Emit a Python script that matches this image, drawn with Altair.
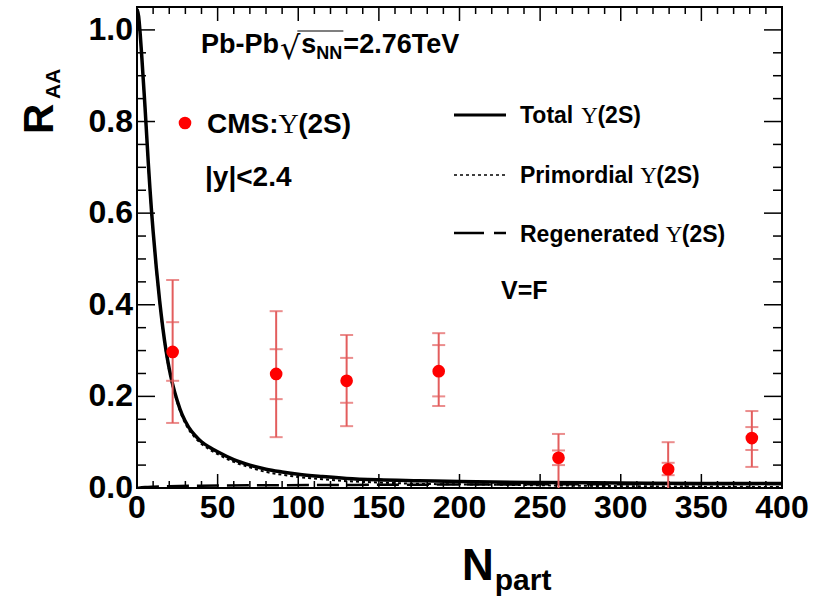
import altair as alt
import pandas as pd

# ---------------- data ----------------
# Total Upsilon(2S) curve
tot_npart = [0, 1, 2, 3, 4, 5, 6, 7, 8, 9, 10, 12, 14, 16, 18, 20, 22, 25, 28, 32, 36, 40, 45, 50,
             60, 70, 80, 90, 100, 115, 130, 150, 175, 200, 250, 300, 350, 400]
tot_raa = [1.045, 1.03, 0.99, 0.94, 0.885, 0.83, 0.77, 0.71, 0.655, 0.605, 0.56, 0.48, 0.41, 0.35,
           0.30, 0.26, 0.228, 0.19, 0.16, 0.133, 0.115, 0.101, 0.089, 0.079, 0.062, 0.050, 0.041,
           0.035, 0.030, 0.025, 0.021, 0.018, 0.016, 0.014, 0.012, 0.011, 0.010, 0.010]
# Primordial Upsilon(2S) curve
prim_npart = tot_npart
prim_raa = [1.045, 1.028, 0.988, 0.938, 0.882, 0.828, 0.767, 0.707, 0.652, 0.602, 0.557, 0.477,
            0.406, 0.346, 0.296, 0.256, 0.224, 0.186, 0.156, 0.128, 0.110, 0.096, 0.084, 0.074,
            0.057, 0.045, 0.035, 0.029, 0.024, 0.019, 0.015, 0.012, 0.009, 0.008, 0.006, 0.004,
            0.003, 0.002]
# Regenerated Upsilon(2S) curve
reg_npart = [0, 5, 10, 20, 40, 80, 150, 250, 400]
reg_raa = [0.0, 0.002, 0.003, 0.004, 0.005, 0.006, 0.007, 0.008, 0.009]

# CMS data points
cms_npart = [22.1, 86.3, 130.0, 187.1, 261.4, 329.4, 381.3]
cms_raa = [0.297, 0.249, 0.234, 0.255, 0.066, 0.041, 0.109]
cms_stat_lo = [0.234, 0.194, 0.186, 0.200, 0.050, 0.028, 0.083]
cms_stat_hi = [0.362, 0.303, 0.284, 0.312, 0.082, 0.055, 0.133]
cms_tot_lo = [0.142, 0.111, 0.135, 0.179, -0.02, -0.04, 0.046]
cms_tot_hi = [0.454, 0.386, 0.334, 0.338, 0.118, 0.100, 0.168]

# axis ticks and tick labels
x_ticks = [0, 50, 100, 150, 200, 250, 300, 350, 400]
x_tick_labels = ["0", "50", "100", "150", "200", "250", "300", "350", "400"]
x_minor = [v for v in range(0, 401, 10) if v % 50 != 0]
y_ticks = [0.0, 0.2, 0.4, 0.6, 0.8, 1.0]
y_tick_labels = ["0.0", "0.2", "0.4", "0.6", "0.8", "1.0"]
y_minor = [0.05, 0.1, 0.15, 0.25, 0.3, 0.35, 0.45, 0.5, 0.55, 0.65, 0.7, 0.75, 0.85, 0.9, 0.95]

# ---------------- layout ----------------
W, H = 645, 481
SANS = "Liberation Sans"
SERIF = "Liberation Serif"
RED = "#ff0000"
ERR = "#e35d5d"

AB = {' ': 278, '(': 333, ')': 333, '-': 333, '.': 278, ':': 333, '<': 584, '=': 584, '|': 280,
      'A': 722, 'C': 722, 'F': 611, 'M': 833, 'N': 722, 'P': 667, 'R': 722, 'S': 667, 'T': 611,
      'V': 667, 'a': 556, 'b': 611, 'd': 611, 'e': 556, 'g': 611, 'i': 278, 'l': 278, 'm': 889,
      'n': 611, 'o': 611, 'p': 611, 'r': 389, 's': 556, 't': 333, 'y': 556}


def wbold(s, size):
    return sum(AB.get(c, 556) for c in s) / 1000.0 * size


one = pd.DataFrame({"k": [0]})


def txt(s, x, y, size, font=SANS, weight="bold", angle=None, color="black"):
    kw = dict(text=s, font=font, fontSize=size, fontWeight=weight, align="left",
              baseline="alphabetic", color=color)
    if angle is not None:
        kw["angle"] = angle
    return alt.Chart(one).mark_text(**kw).encode(x=alt.value(x), y=alt.value(y))


def upsilon_run(prefix, x, y, size):
    layers = [txt(prefix, x, y, size)]
    x1 = x + wbold(prefix, size)
    layers.append(txt("\u03a5", x1, y, size, font=SERIF, weight="normal"))
    x2 = x1 + 0.70 * size
    layers.append(txt("(2S)", x2, y, size))
    return layers


xs = alt.Scale(domain=[0, 400], nice=False, zero=False)
ys = alt.Scale(domain=[0, 1.05], nice=False, zero=False)

# ---------------- tick labels (through the scales) ----------------
df_xl = pd.DataFrame({"x": x_ticks, "t": x_tick_labels})
df_yl = pd.DataFrame({"y": y_ticks, "t": y_tick_labels})
xlab = alt.Chart(df_xl).mark_text(font=SANS, fontWeight="bold", fontSize=32, align="center",
                                  baseline="top", color="black").encode(
    x=alt.X("x:Q", scale=xs, axis=None), y=alt.value(H + 5), text="t:N")
ylab = alt.Chart(df_yl).mark_text(font=SANS, fontWeight="bold", fontSize=32, align="right",
                                  baseline="middle", color="black").encode(
    y=alt.Y("y:Q", scale=ys, axis=None), x=alt.value(-4), text="t:N")


# ---------------- tick marks (inside frame) ----------------
def xtick_layer(vals, length):
    d = pd.DataFrame({"x": vals})
    b = alt.Chart(d).mark_rule(color="black", strokeWidth=1.5)
    bottom = b.encode(x=alt.X("x:Q", scale=xs, axis=None), y=alt.value(H), y2=alt.value(H - length))
    top = b.encode(x=alt.X("x:Q", scale=xs, axis=None), y=alt.value(0), y2=alt.value(length))
    return [bottom, top]


def ytick_layer(vals, length):
    d = pd.DataFrame({"y": vals})
    b = alt.Chart(d).mark_rule(color="black", strokeWidth=1.5)
    left = b.encode(y=alt.Y("y:Q", scale=ys, axis=None), x=alt.value(0), x2=alt.value(length))
    right = b.encode(y=alt.Y("y:Q", scale=ys, axis=None), x=alt.value(W), x2=alt.value(W - length))
    return [left, right]


ticks = (xtick_layer(x_ticks, 14) + xtick_layer(x_minor, 7)
         + ytick_layer(y_ticks, 18) + ytick_layer(y_minor, 9))

# ---------------- curves ----------------
df_tot = pd.DataFrame({"x": tot_npart, "y": tot_raa})
df_prim = pd.DataFrame({"x": prim_npart, "y": prim_raa})
df_reg = pd.DataFrame({"x": reg_npart, "y": reg_raa})

enc = dict(x=alt.X("x:Q", scale=xs, axis=None), y=alt.Y("y:Q", scale=ys, axis=None))
line_prim = alt.Chart(df_prim).mark_line(color="black", strokeWidth=2, strokeDash=[3, 3],
                                          interpolate="monotone", clip=True).encode(**enc)
line_reg = alt.Chart(df_reg).mark_line(color="black", strokeWidth=2.5, strokeDash=[22, 8],
                                        interpolate="monotone", clip=True).encode(**enc)
line_tot = alt.Chart(df_tot).mark_line(color="black", strokeWidth=3.5,
                                        interpolate="monotone", clip=True).encode(**enc)

# ---------------- CMS points ----------------
df_cms = pd.DataFrame({"x": cms_npart, "y": cms_raa, "lo": cms_tot_lo, "hi": cms_tot_hi})
caps = pd.DataFrame({
    "x": cms_npart * 4,
    "v": cms_tot_lo + cms_tot_hi + cms_stat_lo + cms_stat_hi,
})
err = alt.Chart(df_cms).mark_rule(color=ERR, strokeWidth=2, clip=True).encode(
    x=alt.X("x:Q", scale=xs, axis=None),
    y=alt.Y("lo:Q", scale=ys, axis=None),
    y2="hi:Q",
)
cap = alt.Chart(caps).mark_tick(color=ERR, orient="horizontal", size=13, thickness=2,
                                clip=True).encode(
    x=alt.X("x:Q", scale=xs, axis=None),
    y=alt.Y("v:Q", scale=ys, axis=None),
)
pts = alt.Chart(df_cms).mark_circle(color=RED, size=160, opacity=1).encode(
    x=alt.X("x:Q", scale=xs, axis=None),
    y=alt.Y("y:Q", scale=ys, axis=None),
)

# ---------------- annotations ----------------
ann = []
# header  Pb-Pb sqrt(s_NN)=2.76TeV
hx, hy, hs = 64, 46, 27
ann.append(txt("Pb-Pb", hx, hy, hs))
rx = hx + wbold("Pb-Pb", hs) + 1
ann.append(txt("\u221a", rx, hy + 6, 32, font="DejaVu Sans", weight="normal"))
sx = rx + 0.636 * 32 + 1
ann.append(txt("s", sx, hy, hs))
nx = sx + wbold("s", hs)
ann.append(txt("NN", nx, hy + 6, 18))
ex = nx + wbold("NN", 18) + 1
ann.append(txt("=2.76TeV", ex, hy, hs))
ann.append(alt.Chart(one).mark_rule(color="black", strokeWidth=1.2).encode(
    x=alt.value(rx + 0.636 * 32 - 3), x2=alt.value(ex), y=alt.value(hy - 22)))

# CMS label
ann.append(alt.Chart(one).mark_circle(color=RED, size=160, opacity=1).encode(
    x=alt.value(48), y=alt.value(116)))
ann += upsilon_run("CMS:", 70, 126, 28)
ann.append(txt("|y|<2.4", 68, 179, 28))

# legend
leg_y = [108, 168, 226]
leg_base = [116, 176, 235]
ann.append(alt.Chart(one).mark_rule(color="black", strokeWidth=3).encode(
    x=alt.value(317), x2=alt.value(369), y=alt.value(leg_y[0])))
ann.append(alt.Chart(one).mark_rule(color="black", strokeWidth=1.5, strokeDash=[3, 3]).encode(
    x=alt.value(317), x2=alt.value(369), y=alt.value(leg_y[1])))
ann.append(alt.Chart(one).mark_rule(color="black", strokeWidth=2.5, strokeDash=[30, 10]).encode(
    x=alt.value(317), x2=alt.value(369), y=alt.value(leg_y[2])))
ann += upsilon_run("Total ", 383, leg_base[0], 23)
ann += upsilon_run("Primordial ", 383, leg_base[1], 23)
ann += upsilon_run("Regenerated ", 383, leg_base[2], 23)

ann.append(txt("V=F", 364, 292, 25))

# axis titles
ann.append(txt("R", -84, 127, 42, angle=270))
ann.append(txt("AA", -77, 92, 21, angle=270))
ann.append(txt("N", 325, 573, 44))
ann.append(txt("part", 325 + wbold("N", 44) + 1, 583, 30))

chart = alt.layer(
    *ticks, line_reg, line_prim, line_tot, err, cap, pts, xlab, ylab, *ann
).properties(
    width=W, height=H,
    autosize=alt.AutoSizeParams(type="none"),
    padding={"left": 137, "top": 7, "right": 42, "bottom": 112},
    background="white",
).configure_view(
    stroke="black", strokeWidth=2
)

chart.save("out.html", embed_options={"renderer": "svg", "actions": False})
